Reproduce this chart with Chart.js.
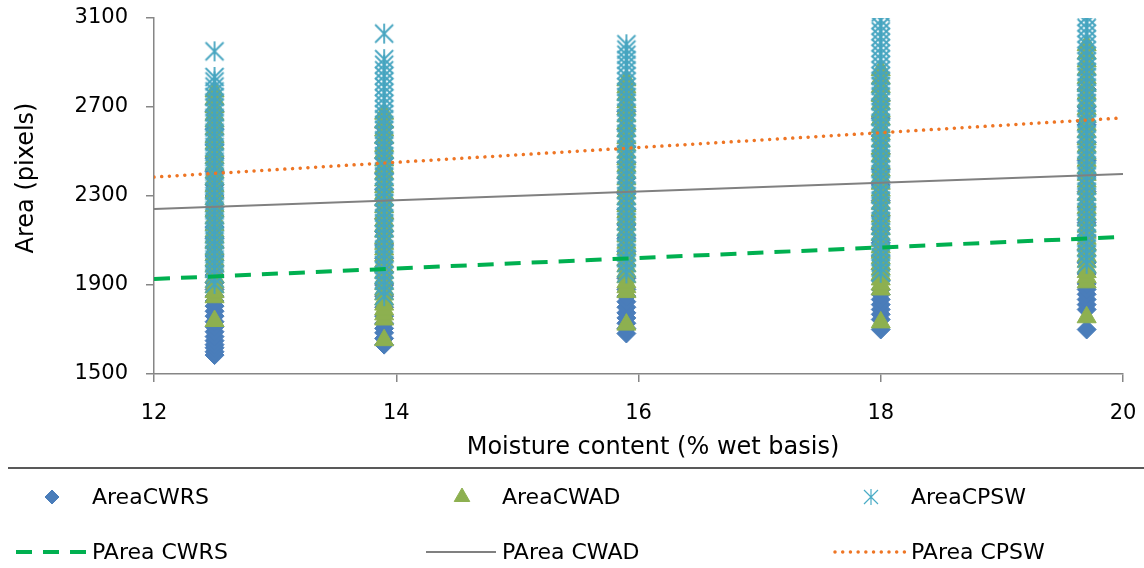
<!DOCTYPE html>
<html>
<head>
<meta charset="utf-8">
<script src="https://cdn.jsdelivr.net/npm/chart.js@4.4.0/dist/chart.umd.min.js"></script>
<style>
  html, body { margin: 0; padding: 0; background: #fff; }
  #wrap { width: 1144px; height: 568px; }
</style>
</head>
<body>
<div id="wrap"><canvas id="areaChart" width="1144" height="568"></canvas></div>
<script>
// moisture levels (% wet basis) at which kernels were imaged
const moisture = [12.5, 13.9, 15.9, 18.0, 19.7];

// kernel areas (pixels), one list per moisture level
const areaCWRS = [
  [1585, 1600, 1618, 1632, 1650, 1668, 1690, 1712, 1735, 1760, 1782, 1805, 1828, 1850, 1880, 1910, 1945, 1985, 2030, 2070, 2110, 2160, 2210, 2250, 2300, 2350, 2410, 2470, 2530, 2600, 2680],
  [1632, 1660, 1685, 1705, 1728, 1760, 1800, 1850, 1900, 1960, 2020, 2080, 2140, 2200, 2260, 2330, 2400, 2470, 2540, 2610],
  [1682, 1705, 1728, 1752, 1775, 1800, 1825, 1850, 1880, 1930, 1990, 2050, 2110, 2170, 2240, 2310, 2380, 2450, 2520, 2600, 2680],
  [1700, 1745, 1768, 1790, 1812, 1835, 1858, 1880, 1920, 1970, 2030, 2090, 2150, 2210, 2280, 2350, 2420, 2490, 2570, 2650, 2730],
  [1700, 1790, 1812, 1835, 1858, 1880, 1905, 1950, 2000, 2060, 2120, 2180, 2250, 2320, 2390, 2460, 2540, 2620, 2700, 2780]
];
const areaCWAD = [
  [1738, 1845, 1868, 1890, 1912, 1935, 1960, 1985, 2010, 2035, 2060, 2090, 2115, 2140, 2170, 2200, 2230, 2255, 2285, 2315, 2345, 2375, 2405, 2440, 2470, 2500, 2535, 2565, 2600, 2635, 2665, 2700, 2735, 2770],
  [1652, 1745, 1768, 1790, 1812, 1835, 1858, 1880, 1905, 1930, 1955, 1980, 2005, 2032, 2060, 2085, 2110, 2140, 2165, 2190, 2220, 2250, 2280, 2310, 2340, 2370, 2400, 2430, 2460, 2495, 2525, 2560, 2595, 2630, 2670],
  [1722, 1868, 1890, 1912, 1935, 1960, 1985, 2010, 2035, 2062, 2090, 2118, 2145, 2172, 2200, 2228, 2255, 2285, 2315, 2345, 2375, 2405, 2435, 2465, 2495, 2528, 2560, 2592, 2625, 2658, 2690, 2722, 2755, 2788, 2820],
  [1732, 1880, 1902, 1925, 1948, 1970, 1995, 2020, 2045, 2070, 2098, 2125, 2152, 2180, 2208, 2236, 2265, 2295, 2325, 2355, 2385, 2415, 2448, 2480, 2512, 2545, 2578, 2610, 2645, 2680, 2715, 2750, 2790, 2828, 2866],
  [1755, 1912, 1935, 1958, 1980, 2005, 2030, 2055, 2080, 2108, 2135, 2162, 2190, 2218, 2246, 2275, 2305, 2335, 2365, 2395, 2425, 2458, 2490, 2522, 2555, 2588, 2620, 2655, 2690, 2725, 2760, 2795, 2830, 2868, 2905, 2940, 2978]
];
const areaCPSW = [
  [1905, 1930, 1950, 1972, 1995, 2015, 2038, 2060, 2080, 2102, 2125, 2145, 2168, 2190, 2212, 2235, 2255, 2278, 2300, 2322, 2345, 2365, 2388, 2410, 2432, 2455, 2475, 2498, 2520, 2542, 2565, 2585, 2608, 2630, 2652, 2675, 2698, 2720, 2745, 2770, 2792, 2815, 2835, 2950],
  [1850, 1875, 1898, 1920, 1945, 1968, 1990, 2015, 2038, 2060, 2085, 2108, 2130, 2155, 2178, 2200, 2225, 2248, 2270, 2295, 2318, 2340, 2365, 2388, 2410, 2435, 2458, 2480, 2505, 2528, 2550, 2575, 2598, 2620, 2645, 2668, 2690, 2715, 2740, 2765, 2790, 2815, 2840, 2865, 2890, 2915, 3030],
  [1952, 1975, 1998, 2020, 2045, 2068, 2090, 2115, 2138, 2160, 2185, 2208, 2230, 2255, 2278, 2300, 2325, 2348, 2370, 2395, 2418, 2440, 2465, 2488, 2510, 2535, 2558, 2580, 2605, 2628, 2650, 2675, 2698, 2720, 2745, 2768, 2790, 2815, 2840, 2865, 2890, 2912, 2935, 2958, 2982],
  [1955, 1978, 2000, 2025, 2048, 2070, 2095, 2118, 2140, 2165, 2188, 2210, 2235, 2258, 2280, 2305, 2328, 2350, 2375, 2398, 2420, 2445, 2468, 2490, 2515, 2538, 2560, 2585, 2608, 2630, 2655, 2678, 2700, 2725, 2748, 2770, 2795, 2818, 2840, 2865, 2890, 2915, 2940, 2965, 2990, 3015, 3040, 3065, 3090, 3125],
  [1995, 2018, 2040, 2065, 2088, 2110, 2135, 2158, 2180, 2205, 2228, 2250, 2275, 2298, 2320, 2345, 2368, 2390, 2415, 2438, 2460, 2485, 2508, 2530, 2555, 2578, 2600, 2625, 2648, 2670, 2695, 2718, 2740, 2765, 2788, 2810, 2835, 2858, 2880, 2905, 2930, 2955, 2980, 3005, 3030, 3055, 3080, 3105, 3140]
];

// fitted (predicted) area lines, end points at 12 and 20 %
const fitX = [12, 20];
const pAreaCWRS = [1927, 2116];
const pAreaCWAD = [2242, 2399];
const pAreaCPSW = [2385, 2651];

const xTitle = 'Moisture content (% wet basis)';
const yTitle = 'Area (pixels)';

const FONT = 'DejaVu Sans';

function toPoints(levels, lists) {
  const pts = [];
  levels.forEach((x, i) => lists[i].forEach(y => pts.push({ x: x, y: y })));
  return pts;
}

function linePoints(xs, ys) {
  return xs.map((x, i) => ({ x: x, y: ys[i] }));
}

// asterisk marker: an X with a vertical stroke through it
function makeAsterisk(size, color, width) {
  const c = document.createElement('canvas');
  c.width = size + 2;
  c.height = size + 2;
  const g = c.getContext('2d');
  const m = 1, s = size;
  g.strokeStyle = color;
  g.lineWidth = width;
  g.beginPath();
  g.moveTo(m + 1, m + 1); g.lineTo(m + s - 1, m + s - 1);
  g.moveTo(m + s - 1, m + 1); g.lineTo(m + 1, m + s - 1);
  g.moveTo(m + s / 2, m); g.lineTo(m + s / 2, m + s);
  g.stroke();
  return c;
}

const asterisk = makeAsterisk(20, '#46A5C0', 1.8);
const asteriskKey = makeAsterisk(16, '#4BACC6', 1.2);

// axis titles sit a little off the plot centre, so they are placed by hand
const axisTitles = {
  id: 'axisTitles',
  afterDraw(chart) {
    const ctx = chart.ctx;
    ctx.save();
    ctx.font = '24px "' + FONT + '"';
    ctx.fillStyle = '#000';
    ctx.textAlign = 'center';
    ctx.textBaseline = 'middle';
    ctx.fillText(xTitle, 653, 448);
    ctx.translate(27, 178);
    ctx.rotate(-Math.PI / 2);
    ctx.fillText(yTitle, 0, 0);
    ctx.restore();
  }
};

// legend drawn under the x axis title, in a 3 x 2 grid
const bottomLegend = {
  id: 'bottomLegend',
  afterDraw(chart) {
    const ctx = chart.ctx;
    const cols = [92, 502, 911];
    const rows = [497, 552];
    ctx.save();
    ctx.strokeStyle = '#595959';
    ctx.lineWidth = 2;
    ctx.beginPath();
    ctx.moveTo(8, 468);
    ctx.lineTo(chart.width, 468);
    ctx.stroke();

    ctx.font = '22px "' + FONT + '"';
    ctx.textBaseline = 'middle';
    ctx.textAlign = 'left';
    chart.data.datasets.forEach((ds, i) => {
      const tx = cols[i % 3];
      const ty = rows[Math.floor(i / 3)];
      ctx.save();
      if (ds.type === 'line') {
        ctx.strokeStyle = ds.borderColor;
        ctx.lineWidth = ds.borderWidth;
        ctx.lineCap = ds.borderCapStyle || 'butt';
        ctx.setLineDash(ds.borderDash || []);
        ctx.beginPath();
        ctx.moveTo(tx - 76, ty);
        ctx.lineTo(tx - 6, ty);
        ctx.stroke();
      } else {
        ctx.fillStyle = ds.backgroundColor;
        ctx.strokeStyle = ds.borderColor;
        ctx.lineWidth = ds.borderWidth || 1;
        Chart.helpers.drawPoint(ctx, {
          pointStyle: ds.legendStyle || ds.pointStyle,
          radius: ds.legendRadius,
          rotation: 0,
          borderWidth: ds.borderWidth || 1
        }, tx - 40, ty);
      }
      ctx.restore();
      ctx.fillStyle = '#000';
      ctx.fillText(ds.label, tx, ty + 1);
    });
    ctx.restore();
  }
};

const tickFont = { family: FONT, size: 21 };
const plainNumber = v => String(v);

new Chart(document.getElementById('areaChart'), {
  type: 'scatter',
  data: {
    datasets: [
      {
        label: 'AreaCWRS',
        data: toPoints(moisture, areaCWRS),
        pointStyle: 'rectRot',
        pointRadius: 9.5,
        legendRadius: 7,
        backgroundColor: '#4A7DBA',
        borderColor: '#4A7DBA',
        borderWidth: 1,
        order: 3
      },
      {
        label: 'AreaCWAD',
        data: toPoints(moisture, areaCWAD),
        pointStyle: 'triangle',
        pointRadius: 11,
        legendRadius: 9,
        backgroundColor: '#8DB050',
        borderColor: '#8DB050',
        borderWidth: 1,
        order: 2
      },
      {
        label: 'AreaCPSW',
        data: toPoints(moisture, areaCPSW),
        pointStyle: asterisk,
        legendStyle: asteriskKey,
        pointRadius: 10,
        legendRadius: 8,
        backgroundColor: '#4BACC6',
        borderColor: '#4BACC6',
        borderWidth: 1,
        order: 1
      },
      {
        type: 'line',
        label: 'PArea CWRS',
        data: linePoints(fitX, pAreaCWRS),
        borderColor: '#00B050',
        borderWidth: 4,
        borderDash: [16, 11],
        pointRadius: 0,
        fill: false,
        order: 0
      },
      {
        type: 'line',
        label: 'PArea CWAD',
        data: linePoints(fitX, pAreaCWAD),
        borderColor: '#808080',
        borderWidth: 2,
        pointRadius: 0,
        fill: false,
        order: 0
      },
      {
        type: 'line',
        label: 'PArea CPSW',
        data: linePoints(fitX, pAreaCPSW),
        borderColor: '#EE7524',
        borderWidth: 3.5,
        borderDash: [0.01, 7.7],
        borderCapStyle: 'round',
        pointRadius: 0,
        fill: false,
        order: 0
      }
    ]
  },
  options: {
    responsive: false,
    animation: false,
    layout: { padding: { top: 18, right: 21, bottom: 108, left: 0 } },
    plugins: {
      legend: { display: false },
      tooltip: { enabled: false }
    },
    scales: {
      x: {
        type: 'linear',
        min: 12,
        max: 20,
        ticks: { stepSize: 2, font: tickFont, color: '#000', padding: 19, callback: plainNumber },
        grid: { drawOnChartArea: false, tickLength: 8, color: '#868686', lineWidth: 1.5 },
        border: { color: '#868686', width: 1.5 },
        title: { display: false },
        afterFit(scale) {
          scale.height = 86;
          scale.paddingLeft = 0;
          scale.paddingRight = 0;
        }
      },
      y: {
        min: 1500,
        max: 3100,
        ticks: { stepSize: 400, font: tickFont, color: '#000', padding: 18, callback: plainNumber },
        grid: { drawOnChartArea: false, tickLength: 8, color: '#868686', lineWidth: 1.5 },
        border: { color: '#868686', width: 1.5 },
        title: { display: false },
        afterFit(scale) {
          scale.width = 154;
          scale.paddingTop = 0;
          scale.paddingBottom = 0;
        }
      }
    }
  },
  plugins: [axisTitles, bottomLegend]
});
</script>
</body>
</html>
